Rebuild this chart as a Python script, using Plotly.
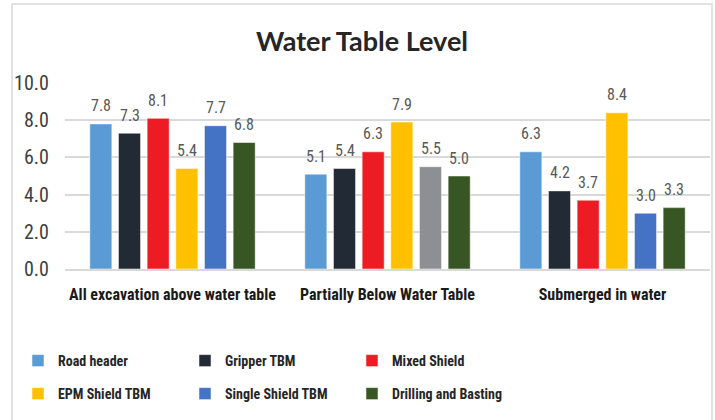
import plotly.graph_objects as go

categories = ["All excavation above water table", "Partially Below Water Table", "Submerged in water"]
series_names = ["Road header", "Gripper TBM", "Mixed Shield", "EPM Shield TBM", "Single Shield TBM", "Drilling and Basting"]
road_header = [7.8, 5.1, 6.3]
gripper_tbm = [7.3, 5.4, 4.2]
mixed_shield = [8.1, 6.3, 3.7]
epm_shield_tbm = [5.4, 7.9, 8.4]
single_shield_tbm = [7.7, 5.5, 3.0]
drilling_basting = [6.8, 5.0, 3.3]
y_ticks = [0, 2, 4, 6, 8, 10]

series_values = [road_header, gripper_tbm, mixed_shield, epm_shield_tbm, single_shield_tbm, drilling_basting]
colors = ["#5B9BD5", "#222A35", "#ED1C24", "#FFC000", "#4472C4", "#375623"]
point_colors = [[c, c, c] for c in colors]
point_colors[4][1] = "#8E8F92"  # grey bar in the middle group

W, H = 715, 420
L, R, T, B = 65, 5, 83, 151
pw, ph = W - L - R, H - T - B
BARGAP, GROUPGAP = 0.2, 0.23
slot_px = (pw / len(categories)) * (1 - BARGAP) / len(series_names)

def px(x):
    return (x - L) / pw

def py(y):
    return (H - B - y) / ph

FONT = "Lato, Open Sans, sans-serif"
NARROW = "Liberation Sans Narrow, Roboto Condensed, DejaVu Sans Condensed, Lato, sans-serif"

fig = go.Figure()
annotations = []
n = len(series_names)
for i, (name, vals) in enumerate(zip(series_names, series_values)):
    fig.add_trace(go.Bar(
        x=categories, y=vals, name=name,
        marker=dict(color=point_colors[i], line=dict(color="rgba(255,255,255,0.5)", width=1)),
        legend="legend" if i < 3 else "legend2",
        showlegend=True,
    ))
    for cat, v in zip(categories, vals):
        annotations.append(dict(
            x=cat, y=v, xref="x", yref="y", text=f"{v:.1f}", showarrow=False,
            xshift=(i - (n - 1) / 2) * slot_px, yshift=18, yanchor="middle",
            font=dict(family=NARROW, size=16, color="#595959"),
        ))

legend_font = dict(family=NARROW, size=14, color="#262626", weight="bold")
fig.update_layout(
    width=W, height=H,
    margin=dict(l=L, r=R, t=T, b=B),
    paper_bgcolor="white", plot_bgcolor="white",
    title=dict(text="<b>Water Table Level</b>", x=362 / W, xref="container", xanchor="center",
               y=1 - 42 / H, yref="container", yanchor="middle",
               font=dict(family=FONT, size=27, color="#262626")),
    barmode="group", bargap=BARGAP, bargroupgap=GROUPGAP,
    yaxis=dict(range=[0, 10], tickvals=y_ticks, tickformat=".1f",
               showgrid=True, gridcolor="#D9D9D9", gridwidth=2, zeroline=False,
               showline=False, ticks="", ticklabelstandoff=15,
               tickfont=dict(family=NARROW, size=20, color="#404040")),
    xaxis=dict(showline=True, linecolor="#D9D9D9", linewidth=2, ticks="",
               ticklabelstandoff=10,
               tickfont=dict(family=NARROW, size=16, color="#1a1a1a", weight="bold")),
    legend=dict(orientation="h", x=px(18), xanchor="left", y=py(345), yanchor="top",
                entrywidth=122, entrywidthmode="pixels", font=legend_font,
                itemwidth=30, traceorder="normal", bgcolor="rgba(0,0,0,0)"),
    legend2=dict(orientation="h", x=px(18), xanchor="left", y=py(378), yanchor="top",
                 entrywidth=122, entrywidthmode="pixels", font=legend_font,
                 itemwidth=30, traceorder="normal", bgcolor="rgba(0,0,0,0)"),
    annotations=annotations,
    shapes=[dict(type="rect", xref="paper", yref="paper",
                 x0=px(12), x1=px(712), y0=py(440), y1=py(4),
                 line=dict(color="#D9D9D9", width=1.5), fillcolor="rgba(0,0,0,0)", layer="below")],
    showlegend=True,
)
fig.write_html("out.html", config={"displayModeBar": False},
               post_script="document.body.style.margin='0';")
